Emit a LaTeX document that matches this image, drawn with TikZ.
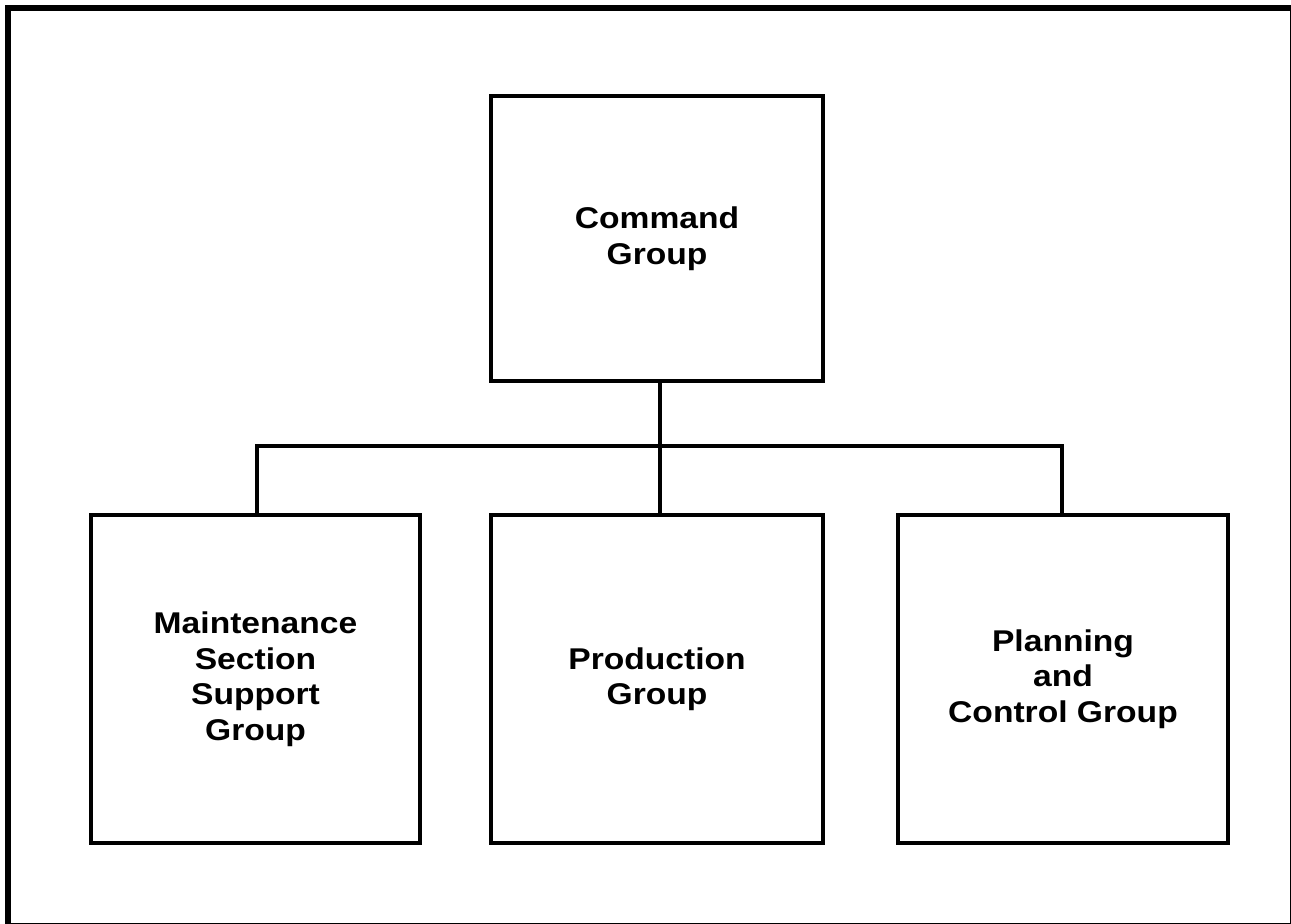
\documentclass[tikz,border=0pt]{standalone}
\usepackage{fontspec}
\setmainfont{Liberation Sans}[FakeStretch=1.12]
\begin{document}
\begin{tikzpicture}[x=1pt,y=-1pt,
  box/.style={draw,line width=4pt,rectangle,inner sep=0pt,align=center,
    font=\fontsize{30}{35.5}\selectfont\bfseries},
  link/.style={line width=4pt,line cap=rect}]
\useasboundingbox (0,0) rectangle (1291,924);
\draw[line width=6pt] (8,8) rectangle (1292.5,925.5);
\node[box,minimum width=332pt,minimum height=285pt] (cmd) at (657,238.5) {Command\\Group};
\node[box,minimum width=329pt,minimum height=328pt] (mnt) at (255.5,679) {Maintenance\\Section\\Support\\Group};
\node[box,minimum width=332pt,minimum height=328pt] (prd) at (657,679) {Production\\Group};
\node[box,minimum width=330pt,minimum height=328pt] (pln) at (1063,679) {Planning\\and\\Control Group};
\coordinate (j) at (660,446);
\coordinate (jl) at (257,446);
\coordinate (jr) at (1062,446);
\draw[link] (cmd.south -| j) -- (j);
\draw[link] (jl |- mnt.north) -- (jl) -- (jr) -- (jr |- pln.north);
\draw[link] (j) -- (j |- prd.north);
\end{tikzpicture}
\end{document}
